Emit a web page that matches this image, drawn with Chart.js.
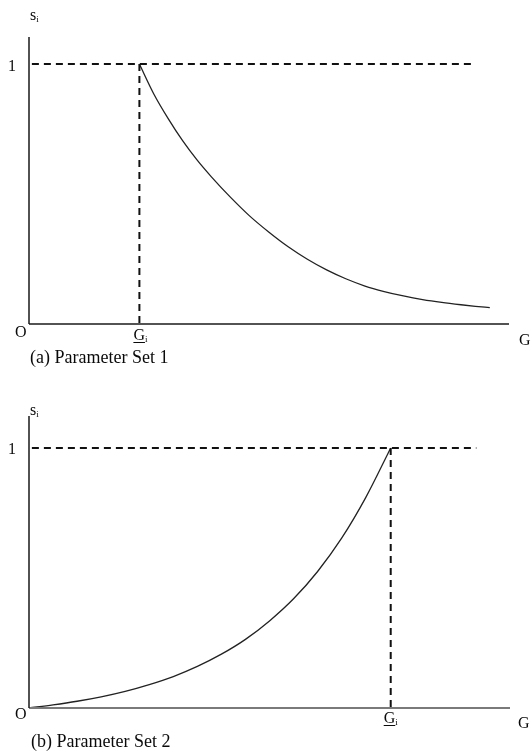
<!DOCTYPE html>
<html>
<head>
<meta charset="utf-8">
<script src="https://cdn.jsdelivr.net/npm/chart.js@4/dist/chart.umd.min.js"></script>
<style>
  html, body { margin: 0; padding: 0; background: #fff; }
  #wrap { position: relative; width: 531px; height: 751px; overflow: hidden; }
  #wrap canvas { position: absolute; left: 0; top: 0; }
  .lbl { position: absolute; left: 0; top: 0; font-family: "Liberation Serif", "Times New Roman", serif;
         color: #0a0a0a; white-space: nowrap; line-height: 1; font-size: 16px; }
  .lbl.cap { font-size: 18px; }
  .lbl sub { font-size: 9px; vertical-align: -2px; line-height: 0; }
  .lbl .bl { display: inline-block; width: 0; height: 0; vertical-align: baseline; }
  .ul { text-decoration: underline; text-decoration-thickness: 1px; text-underline-offset: 2px; }
</style>
</head>
<body>
<div id="wrap">
  <canvas id="chartA" width="531" height="751"></canvas>
  <canvas id="chartB" width="531" height="751"></canvas>
</div>
<script>
// ---- shared axis extent (G runs 0..100) ----
const xMax = 100;
const levelOne = 1;                 // the s_i = 1 reference level
const dashFrom = 0.6, dashTo = 93;  // span of the horizontal dashed guide

// ---- (a) Parameter Set 1: s_i falls off after the threshold G_i ----
const thresholdA = 23;
const curveAx = [23, 26, 29, 32, 35, 38, 42, 46, 50, 54, 58, 62, 66, 70, 74, 78, 82, 86, 90, 93, 96];
const curveAy = [1.000, 0.885, 0.790, 0.705, 0.631, 0.566, 0.487, 0.415, 0.353, 0.297, 0.249,
                 0.208, 0.174, 0.146, 0.125, 0.108, 0.094, 0.083, 0.074, 0.068, 0.063];

// ---- (b) Parameter Set 2: s_i climbs up to the threshold G_i ----
const thresholdB = 75.2;
const curveBx = [0, 5, 10, 15, 20, 25, 30, 35, 40, 45, 50, 55, 60, 65, 70, 75.2];
const curveBy = [0.000, 0.012, 0.026, 0.043, 0.064, 0.090, 0.121, 0.160, 0.207, 0.264,
                 0.335, 0.420, 0.525, 0.653, 0.809, 1.000];

// ---- text ----
const captionA = "(a) Parameter Set 1";
const captionB = "(b) Parameter Set 2";
const yName = "s", xName = "G", idx = "i", originName = "O", oneLabel = "1";

function pts(xs, ys) { return xs.map((x, i) => ({ x: x, y: ys[i] })); }

function line(data, color, width, dash) {
  return { data: data, borderColor: color, borderWidth: width, borderDash: dash || [],
           pointRadius: 0, fill: false, tension: 0, clip: false, borderCapStyle: 'butt' };
}

function makeLabel(html, cls) {
  const el = document.createElement('div');
  el.className = 'lbl' + (cls ? ' ' + cls : '');
  el.innerHTML = html + '<span class="bl"></span>';
  document.getElementById('wrap').appendChild(el);
  return el;
}

function place(el, x, baseline, align) {
  const off = el.querySelector('.bl').offsetTop;
  let left = x;
  if (align === 'right') left = x - el.offsetWidth;
  el.style.left = left + 'px';
  el.style.top = (baseline - off) + 'px';
}

// Axis labels, positioned from each chart's own scales once it has been laid out
function labelPlugin(spec) {
  const els = spec.map(s => makeLabel(s.html, s.cls));
  return {
    id: 'axisText',
    afterRender(chart) {
      const xs = chart.scales.x, ys = chart.scales.y;
      spec.forEach((s, i) => {
        const p = s.at(xs, ys);
        place(els[i], p[0], p[1], s.align);
      });
    }
  };
}

const subI = '<sub>' + idx + '</sub>';

function build(canvasId, opt) {
  const yTop = opt.yTop;
  const datasets = [
    line(pts([0, 0], [yTop, 0]), '#1a1a1a', 1.5),
    line(pts([0, xMax], [0, 0]), opt.xAxisColor, opt.xAxisWidth),
    line(pts([dashFrom, dashTo], [levelOne, levelOne]), '#111', 2, [7, 5]),
    line(pts([opt.threshold, opt.threshold], [levelOne, 0]), '#111', 2, [7, 5]),
    Object.assign(line(pts(opt.cx, opt.cy), '#222', 1.3), { cubicInterpolationMode: 'monotone' })
  ];
  return new Chart(document.getElementById(canvasId), {
    type: 'line',
    data: { datasets: datasets },
    options: {
      responsive: false,
      animation: false,
      events: [],
      layout: { padding: opt.padding },
      plugins: { legend: { display: false }, tooltip: { enabled: false }, title: { display: false } },
      scales: {
        x: { type: 'linear', min: 0, max: xMax, display: false },
        y: { type: 'linear', min: 0, max: yTop, display: false }
      }
    },
    plugins: [labelPlugin(opt.labels)]
  });
}

build('chartA', {
  yTop: 1.104, threshold: thresholdA, cx: curveAx, cy: curveAy,
  xAxisColor: '#1a1a1a', xAxisWidth: 1.5,
  padding: { left: 29, right: 22, top: 37, bottom: 427 },
  labels: [
    { html: yName + subI, at: (x, y) => [x.getPixelForValue(0) + 1, y.getPixelForValue(levelOne) - 44] },
    { html: oneLabel, align: 'right', at: (x, y) => [x.getPixelForValue(0) - 13, y.getPixelForValue(levelOne) + 7] },
    { html: originName, align: 'right', at: (x, y) => [x.getPixelForValue(0) - 2, y.getPixelForValue(0) + 13] },
    { html: '<span class="ul">' + xName + '</span>' + subI, at: (x, y) => [x.getPixelForValue(thresholdA) - 6, y.getPixelForValue(0) + 16] },
    { html: xName, at: (x, y) => [x.getPixelForValue(xMax) + 10, y.getPixelForValue(0) + 21] },
    { html: captionA, cls: 'cap', at: (x, y) => [x.getPixelForValue(0) + 1, y.getPixelForValue(0) + 39] }
  ]
});

build('chartB', {
  yTop: 1.123, threshold: thresholdB, cx: curveBx, cy: curveBy,
  xAxisColor: '#7a7a7a', xAxisWidth: 2,
  padding: { left: 29, right: 21, top: 416, bottom: 43 },
  labels: [
    { html: yName + subI, at: (x, y) => [x.getPixelForValue(0) + 1, y.getPixelForValue(levelOne) - 33] },
    { html: oneLabel, align: 'right', at: (x, y) => [x.getPixelForValue(0) - 13, y.getPixelForValue(levelOne) + 6] },
    { html: originName, align: 'right', at: (x, y) => [x.getPixelForValue(0) - 2, y.getPixelForValue(0) + 11] },
    { html: '<span class="ul">' + xName + '</span>' + subI, at: (x, y) => [x.getPixelForValue(thresholdB) - 7, y.getPixelForValue(0) + 15] },
    { html: xName, at: (x, y) => [x.getPixelForValue(xMax) + 8, y.getPixelForValue(0) + 20] },
    { html: captionB, cls: 'cap', at: (x, y) => [x.getPixelForValue(0) + 2, y.getPixelForValue(0) + 39] }
  ]
});
</script>
</body>
</html>
